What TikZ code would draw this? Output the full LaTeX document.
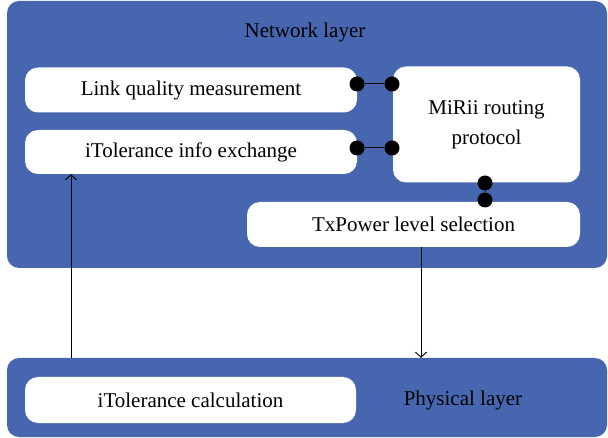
\documentclass[tikz,border=0pt]{standalone}
\usepackage{fontspec}
\setmainfont{Liberation Serif}
\usetikzlibrary{arrows.meta}
\definecolor{layerblue}{RGB}{70,103,176}
\begin{document}
\begin{tikzpicture}[x=1pt,y=-1pt,
  layer/.style={fill=layerblue,draw=none,rounded corners=12pt},
  box/.style={fill=white,draw=none,rounded corners=13pt,inner sep=0pt,font=\fontsize{21}{25}\selectfont},
  lbl/.style={font=\fontsize{21}{25}\selectfont,inner sep=0pt},
  dot/.style={circle,fill=black,inner sep=0pt,minimum size=15pt},
  conn/.style={line width=1pt},
  arr/.style={line width=0.9pt,-{Straight Barb[length=5pt,width=11pt]}}]
\useasboundingbox (0,0) rectangle (608,438);
\node[layer,minimum width=600pt,minimum height=267pt] (net) at (307,134.5) {};
\node[layer,minimum width=600pt,minimum height=79pt] (phy) at (307,397.5) {};
\node[lbl] (netl) at (305,32) {Network layer};
\node[lbl] (phyl) at (463,400) {Physical layer};
\node[box,minimum width=332pt,minimum height=45pt] (lq) at (191,90) {Link quality measurement};
\node[box,minimum width=332pt,minimum height=44pt] (ite) at (191,152) {iTolerance info exchange};
\node[box,minimum width=187pt,minimum height=116pt,align=center] (mr) at (486.5,124.5) {MiRii routing\\[5pt]protocol};
\node[box,minimum width=333pt,minimum height=45pt] (tx) at (413.5,224.5) {TxPower level selection};
\node[box,minimum width=331pt,minimum height=46pt] (itc) at (190.5,400) {iTolerance calculation};
\node[dot] (d1) at (357,84) {};
\node[dot] (d2) at (392,84) {};
\node[dot] (d3) at (357,148) {};
\node[dot] (d4) at (392,148) {};
\node[dot] (d5) at (485,183) {};
\node[dot] (d6) at (485,200) {};
\draw[conn] (d1) -- (d2);
\draw[conn] (d3) -- (d4);
\draw[conn] (d5) -- (d6);
\draw[arr] (tx.south -| 421,0) -- (phy.north -| 421,0);
\draw[arr] (phy.north -| 71,0) -- (ite.south -| 71,0);
\end{tikzpicture}
\end{document}
